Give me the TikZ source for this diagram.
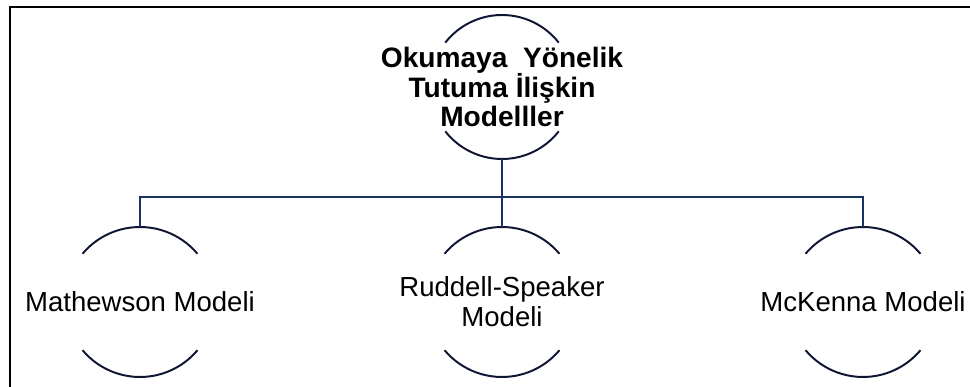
\documentclass[tikz,border=0pt]{standalone}
\usepackage{fontspec}
\setmainfont{Liberation Sans}
\usepackage{tikz}

\definecolor{arcline}{RGB}{15,22,52}
\definecolor{barline}{RGB}{22,52,95}

\begin{document}
\begin{tikzpicture}[
		model/.style={inner sep=0pt, outer sep=0pt, align=center, font=\fontsize{19.6}{21.3}\selectfont},
		half/.style={line width=1.4pt, color=arcline},
		conn/.style={line width=1.4pt, color=barline}
	]
		\useasboundingbox (0,0) rectangle (24.25,9.675);

		% frame
		\draw[line width=1pt] (0.25,0) -- (0.25,9.5) -- (24.25,9.5);

		\draw (12.55,7.5) node[model, font=\bfseries\fontsize{20}{21.3}\selectfont] (root) {Okumaya\ \ Yönelik\\Tutuma İlişkin\\Modelller};

		\draw (3.5,2.125) node[model] (mathewson) {Mathewson Modeli};
		\draw (12.55,2.125) node[model] (ruddell) {Ruddell-Speaker\\Modeli};
		\draw (21.575,2.125) node[model] (mckenna) {McKenna Modeli};

		% arcs above and below each text
		\draw[half] ([shift={(38:1.8)}]root.center) arc (38:142:1.8);
		\draw[half] ([shift={(218:1.8)}]root.center) arc (218:322:1.8);
		\coordinate (root low) at ([yshift=-1.8cm]root.center);
		\foreach \m in {mathewson, ruddell, mckenna} {
			\draw[half] ([shift={(40:1.875)}]\m.center) arc (40:140:1.875);
			\draw[half] ([shift={(220:1.875)}]\m.center) arc (220:320:1.875);
			\coordinate (\m\space top) at ([yshift=1.875cm]\m.center);
		}

		\coordinate (bar) at (12.55,4.75);
		\draw[conn] (root low) -- (bar);
		\draw[conn] (bar) -| (mathewson top);
		\draw[conn] (bar) -- (ruddell top);
		\draw[conn] (bar) -| (mckenna top);
	\end{tikzpicture}
\end{document}
